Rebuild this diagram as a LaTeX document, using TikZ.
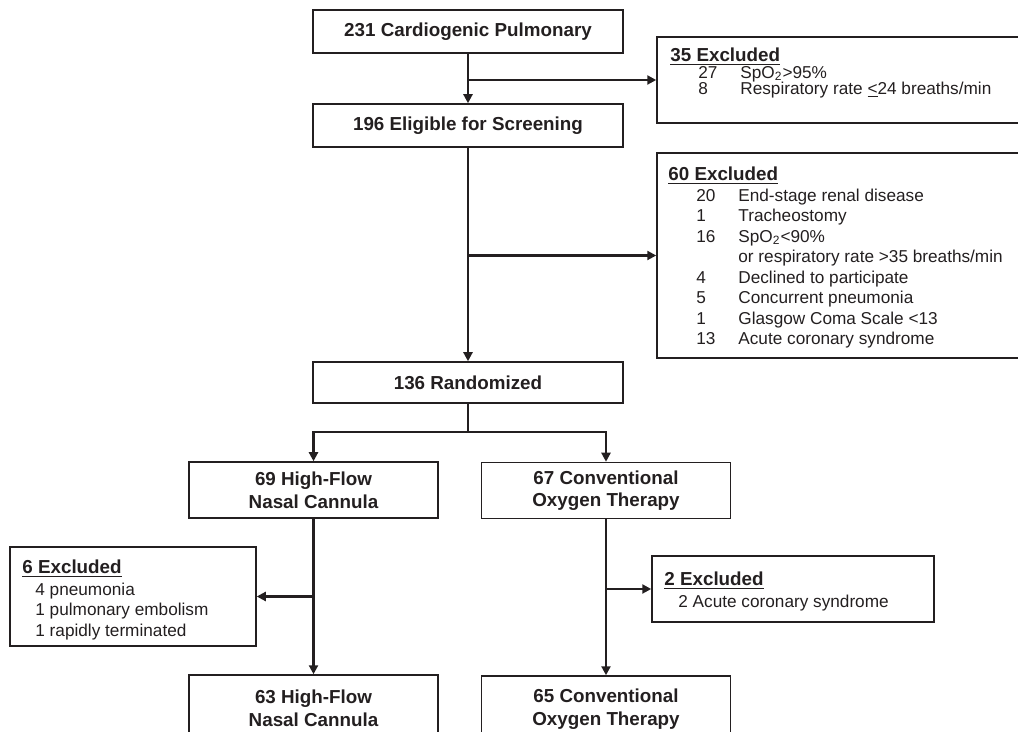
\documentclass[tikz,border=0pt]{standalone}
\usepackage{fontspec}
\setmainfont{Liberation Sans}
\usetikzlibrary{arrows.meta}
\definecolor{InkGray}{HTML}{231F20}
\newcommand{\exhead}[1]{{\bfseries\fontsize{9.4}{10}\selectfont\underline{#1}}}
\newcommand{\exrow}[2]{\hspace*{14pt}\makebox[21pt][l]{#1}#2}
\newcommand{\tightfont}{\fontsize{8.6}{7.75}\selectfont\lineskiplimit=-20pt\relax}

\begin{document}
\begin{tikzpicture}[x=0.5pt, y=-0.5pt,
    every node/.style={text=InkGray},
    box/.style={draw=InkGray, line width=0.75pt, align=center, inner sep=0pt,
                font=\bfseries\fontsize{9.4}{11.3}\selectfont},
    exbox/.style={draw=InkGray, line width=0.75pt, inner sep=0pt},
    extext/.style={anchor=north west, align=left, inner sep=0pt,
                   font=\fontsize{8.6}{10.25}\selectfont},
    arr/.style={-{Triangle[length=4.5pt,width=4.5pt]}, line width=1.1pt, draw=InkGray},
    conn/.style={line width=1.1pt, draw=InkGray},
  ]
  \useasboundingbox (0,0) rectangle (1018,732);
  \clip (0,0) rectangle (1018,732);

  % main flow
  \node[box, minimum width=155pt, minimum height=21.5pt] (n231)  at (468,31.5)  {231 Cardiogenic Pulmonary};
  \node[box, minimum width=155pt, minimum height=21.5pt] (n196)  at (468,125.5) {196 Eligible for Screening};
  \node[box, minimum width=155pt, minimum height=20.5pt] (nRand) at (468,382.5) {136 Randomized};
  \node[box, minimum width=124.5pt, minimum height=28pt] (n69)   at (313.5,490) {69 High-Flow\\Nasal Cannula};
  \node[box, minimum width=124.5pt, minimum height=28pt] (n67)   at (606,490.5) {67 Conventional\\Oxygen Therapy};
  \node[box, minimum width=124.5pt, minimum height=33.5pt] (n63)  at (313.5,708.5) {63 High-Flow\\Nasal Cannula};
  \node[box, minimum width=124.5pt, minimum height=33pt] (n65)   at (606,709)   {65 Conventional\\Oxygen Therapy};

  % exclusion boxes
  \node[exbox, minimum width=191.5pt, minimum height=43pt]   (ex35) at (848.5,80)    {};
  \node[exbox, minimum width=191.5pt, minimum height=102.5pt] (ex60) at (848.5,255.5) {};
  \node[exbox, minimum width=123pt, minimum height=49.5pt]   (ex6)  at (133,596.5)   {};
  \node[exbox, minimum width=141pt, minimum height=33pt]     (ex2)  at (793,589)     {};

  \node[extext, font=\tightfont] (ex35txt) at (670,47)
    {\exhead{35 Excluded}\\[1pt]
     \exrow{27}{SpO\textsubscript{2}>95\%}\\
     \exrow{8}{Respiratory rate \underline{<}24 breaths/min}};
  \node[extext] (ex60txt) at (668,166)
    {\exhead{60 Excluded}\\[0.25pt]
     \exrow{20}{End-stage renal disease}\\
     \exrow{1}{Tracheostomy}\\
     \exrow{16}{SpO\textsubscript{2}<90\%}\\
     \exrow{}{or respiratory rate >35 breaths/min}\\
     \exrow{4}{Declined to participate}\\
     \exrow{5}{Concurrent pneumonia}\\
     \exrow{1}{Glasgow Coma Scale <13}\\
     \exrow{13}{Acute coronary syndrome}};
  \node[extext] (ex6txt) at (22,559)
    {\exhead{6 Excluded}\\[0.75pt]
     \hspace*{6.5pt}4 pneumonia\\
     \hspace*{6.5pt}1 pulmonary embolism\\
     \hspace*{6.5pt}1 rapidly terminated};
  \node[extext] (ex2txt) at (664,571)
    {\exhead{2 Excluded}\\[0.75pt]
     \hspace*{7pt}2 Acute coronary syndrome};

  % connectors
  \coordinate (b35) at (n231.south |- ex35.west);
  \coordinate (b60) at (n196.south |- ex60.west);
  \coordinate (split) at (468,432);
  \coordinate (b6) at (n69.south |- ex6.east);
  \coordinate (b2) at (n67.south |- ex2.west);

  \draw[arr] (n231) -- (n196);
  \draw[arr] (b35) -- (ex35.west);
  \draw[arr] (n196) -- (nRand);
  \draw[arr] (b60) -- (ex60.west);
  \draw[conn] (nRand) -- (split);
  \draw[arr] (split) -| (n69.north);
  \draw[arr] (split) -| (n67.north);
  \draw[arr] (n69) -- (n63);
  \draw[arr] (b6) -- (ex6.east);
  \draw[arr] (n67) -- (n65);
  \draw[arr] (b2) -- (ex2.west);
\end{tikzpicture}
\end{document}
